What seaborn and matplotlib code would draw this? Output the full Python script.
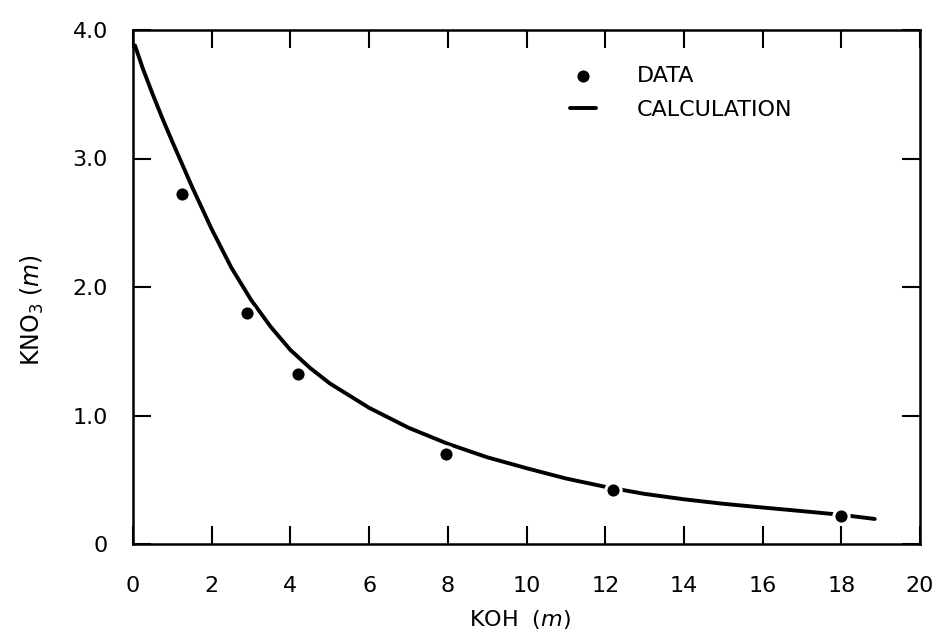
import matplotlib
matplotlib.use("Agg")
import matplotlib.pyplot as plt
import seaborn as sns
import pandas as pd

# ---- data ----
data_koh = [1.25, 2.9, 4.2, 7.95, 12.2, 18.0]
data_kno3 = [2.72, 1.80, 1.32, 0.70, 0.42, 0.22]

calc_koh = [0.05, 0.25, 0.5, 0.75, 1.0, 1.5, 2.0, 2.5, 3.0, 3.5, 4.0, 4.5, 5.0,
            6.0, 7.0, 8.0, 9.0, 10.0, 11.0, 12.0, 13.0, 14.0, 15.0, 16.0, 17.0,
            18.0, 18.85]
calc_kno3 = [3.88, 3.70, 3.50, 3.31, 3.13, 2.78, 2.45, 2.15, 1.90, 1.69, 1.51,
             1.37, 1.25, 1.06, 0.905, 0.78, 0.675, 0.59, 0.51, 0.445, 0.39,
             0.348, 0.313, 0.284, 0.256, 0.227, 0.195]

x_ticks = [0, 2, 4, 6, 8, 10, 12, 14, 16, 18, 20]
x_ticklabels = ["0", "2", "4", "6", "8", "10", "12", "14", "16", "18", "20"]
y_ticks = [0, 1, 2, 3, 4]
y_ticklabels = ["0", "1.0", "2.0", "3.0", "4.0"]

df_data = pd.DataFrame({"KOH": data_koh, "KNO3": data_kno3})
df_calc = pd.DataFrame({"KOH": calc_koh, "KNO3": calc_kno3})

sns.set_style("ticks")
plt.rcParams["font.family"] = ["DejaVu Sans"]
plt.rcParams["mathtext.fontset"] = "dejavusans"
plt.rcParams["lines.solid_joinstyle"] = "round"
plt.rcParams["text.color"] = "black"
plt.rcParams["axes.labelcolor"] = "black"

fig = plt.figure(figsize=(9.36, 6.42), dpi=100)
ax = fig.add_axes([133 / 936, 1 - 544 / 642, (920 - 133) / 936, (544 - 30) / 642])

sns.scatterplot(data=df_data, x="KOH", y="KNO3", ax=ax, color="black", s=120,
                edgecolor="white", linewidth=2.2, zorder=3, label="DATA")
sns.lineplot(data=df_calc, x="KOH", y="KNO3", ax=ax, color="black", lw=2.8,
             estimator=None, sort=True, zorder=2, label="CALCULATION")

ax.set_xlim(0, 20)
ax.set_ylim(0, 4)
ax.set_xticks(x_ticks)
ax.set_xticklabels(x_ticklabels)
ax.set_yticks(y_ticks)
ax.set_yticklabels(y_ticklabels)

ax.tick_params(axis="both", which="major", direction="in", length=13, width=1.5,
               top=True, right=True, labelsize=16, colors="black")
ax.tick_params(axis="x", pad=23)
ax.tick_params(axis="y", pad=18)
for sp in ax.spines.values():
    sp.set_visible(True)
    sp.set_linewidth(1.8)
    sp.set_color("black")

ax.set_xlabel("KOH  ($\\mathit{m}$)", fontsize=16, color="black")
ax.set_ylabel("KNO$_3$ ($\\mathit{m}$)", fontsize=17, color="black")
ax.xaxis.set_label_coords(0.492, -0.125)
ax.yaxis.set_label_coords(-0.11, 0.455)

leg = ax.legend(loc="upper left", bbox_to_anchor=(0.555, 0.93), frameon=False,
                fontsize=16, handlelength=1.17, handletextpad=1.85,
                labelspacing=0.62, borderpad=0, borderaxespad=0)
for t in leg.get_texts():
    t.set_color("black")

fig.savefig("out.png", dpi=100, facecolor="white")
